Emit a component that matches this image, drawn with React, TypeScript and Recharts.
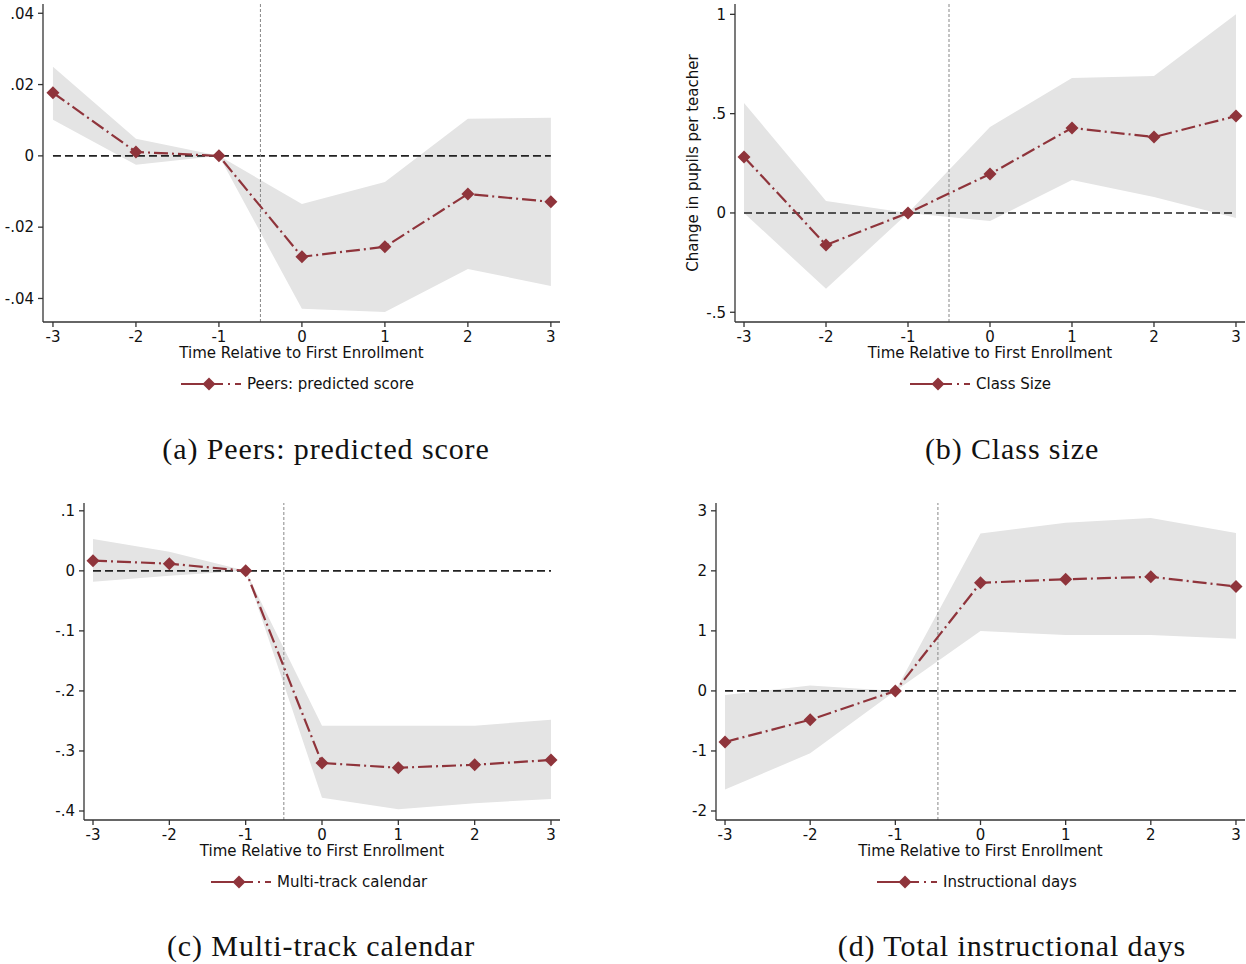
import React from "react";
import { Area, ComposedChart, Line, ReferenceLine, XAxis, YAxis } from "recharts";

const periods = [-3, -2, -1, 0, 1, 2, 3];

const peersCoef = [0.0177, 0.0011, 0, -0.0283, -0.0255, -0.0107, -0.0129];
const peersLo = [0.0101, -0.0025, 0, -0.0429, -0.0438, -0.0317, -0.0365];
const peersHi = [0.025, 0.0048, 0, -0.0135, -0.0073, 0.0104, 0.0107];
const peersTicks = [-0.04, -0.02, 0, 0.02, 0.04];

const classCoef = [0.282, -0.161, 0, 0.196, 0.428, 0.382, 0.488];
const classLo = [0.0, -0.382, 0, -0.04, 0.166, 0.08, -0.025];
const classHi = [0.554, 0.06, 0, 0.433, 0.679, 0.689, 1.0];
const classTicks = [-0.5, 0, 0.5, 1];

const trackCoef = [0.017, 0.012, 0, -0.32, -0.328, -0.323, -0.315];
const trackLo = [-0.018, -0.008, 0, -0.378, -0.397, -0.387, -0.38];
const trackHi = [0.053, 0.032, 0, -0.258, -0.258, -0.258, -0.248];
const trackTicks = [-0.4, -0.3, -0.2, -0.1, 0, 0.1];

const daysCoef = [-0.85, -0.48, 0, 1.8, 1.86, 1.9, 1.74];
const daysLo = [-1.64, -1.04, 0, 1.0, 0.93, 0.93, 0.87];
const daysHi = [-0.07, 0.09, 0, 2.62, 2.8, 2.88, 2.63];
const daysTicks = [-2, -1, 0, 1, 2, 3];

const MAROON = "#8f343b";
const BAND = "#e4e4e4";
const AXIS = "#333";
const SANS = "'DejaVu Sans', sans-serif";
const DASHDOT = "14 4 2 4";
const FS = 15;

// Stata-style labels: ".02" instead of "0.02"
const fmt = (v: number) => String(v).replace(/^(-?)0\./, "$1.");

const Diamond = (props: any) => {
  const { cx, cy } = props;
  if (cx == null || cy == null) return null;
  const r = 6.5;
  return (
    <polygon
      points={`${cx},${cy - r} ${cx + r},${cy} ${cx},${cy + r} ${cx - r},${cy}`}
      fill={MAROON}
    />
  );
};

type PanelProps = {
  left: number;
  top: number;
  width: number;
  height: number;
  marginTop: number;
  yAxisWidth: number;
  xDomain: [number, number];
  yDomain: [number, number];
  yTicks: number[];
  coef: number[];
  lo: number[];
  hi: number[];
  yLabel?: string;
  name: string;
  legendLeft: number;
  legendTop: number;
  caption: string;
  captionCenter: number;
  captionTop: number;
};

function EventPanel(p: PanelProps) {
  const rows = periods.map((t, i) => ({
    t,
    coef: p.coef[i],
    band: [p.lo[i], p.hi[i]],
  }));

  const tickStyle = { fontSize: FS, fill: "#111", fontFamily: SANS };

  return (
    <>
      <div style={{ position: "absolute", left: p.left, top: p.top }}>
        <ComposedChart
          width={p.width}
          height={p.height}
          data={rows}
          margin={{ top: p.marginTop, right: 1, bottom: 0, left: 0 }}
        >
          <XAxis
            dataKey="t"
            type="number"
            domain={p.xDomain}
            ticks={periods}
            allowDataOverflow
            height={48}
            tickSize={5}
            tickMargin={4}
            stroke={AXIS}
            strokeWidth={1.3}
            tick={tickStyle}
            label={{
              value: "Time Relative to First Enrollment",
              position: "insideBottom",
              offset: 12,
              ...tickStyle,
            }}
          />
          <YAxis
            type="number"
            domain={p.yDomain}
            ticks={p.yTicks}
            allowDataOverflow
            width={p.yAxisWidth}
            tickSize={5}
            tickMargin={4}
            tickFormatter={fmt}
            stroke={AXIS}
            strokeWidth={1.3}
            tick={tickStyle}
            label={
              p.yLabel
                ? { value: p.yLabel, angle: -90, position: "center", ...tickStyle }
                : undefined
            }
          />
          <Area
            dataKey="band"
            type="linear"
            stroke="none"
            fill={BAND}
            fillOpacity={1}
            isAnimationActive={false}
          />
          <ReferenceLine
            segment={[
              { x: -3, y: 0 },
              { x: 3, y: 0 },
            ]}
            stroke="#222"
            strokeWidth={1.6}
            strokeDasharray="8 4"
          />
          <ReferenceLine x={-0.5} stroke="#888" strokeWidth={1} strokeDasharray="3 2" />
          <Line
            dataKey="coef"
            type="linear"
            stroke={MAROON}
            strokeWidth={2.2}
            strokeDasharray={DASHDOT}
            dot={<Diamond />}
            activeDot={false}
            isAnimationActive={false}
          />
        </ComposedChart>
      </div>

      <div
        style={{
          position: "absolute",
          left: p.legendLeft,
          top: p.legendTop,
          display: "flex",
          alignItems: "center",
          height: 20,
          fontFamily: SANS,
          fontSize: FS,
          color: "#111",
          whiteSpace: "nowrap",
        }}
      >
        <svg width={60} height={20} style={{ marginRight: 6 }}>
          <line
            x1={0}
            y1={10}
            x2={60}
            y2={10}
            stroke={MAROON}
            strokeWidth={2.2}
            strokeDasharray="42 5 2 5 6"
          />
          <Diamond cx={28} cy={10} />
        </svg>
        <span>{p.name}</span>
      </div>

      <div
        style={{
          position: "absolute",
          left: p.captionCenter - 300,
          top: p.captionTop,
          width: 600,
          textAlign: "center",
          fontFamily: "'Liberation Serif', serif",
          fontSize: 30,
          lineHeight: "34px",
          letterSpacing: 0.9,
          color: "#111",
        }}
      >
        {p.caption}
      </div>
    </>
  );
}

export default function App() {
  return (
    <div style={{ position: "absolute", left: 0, top: 0, width: 1246, height: 964, background: "#fff" }}>
      <EventPanel
        left={0}
        top={0}
        width={561}
        height={370}
        marginTop={4}
        yAxisWidth={43}
        xDomain={[-3.12, 3.11]}
        yDomain={[-0.0466, 0.0426]}
        yTicks={peersTicks}
        coef={peersCoef}
        lo={peersLo}
        hi={peersHi}
        name="Peers: predicted score"
        legendLeft={181}
        legendTop={374}
        caption="(a) Peers: predicted score"
        captionCenter={326}
        captionTop={432}
      />
      <EventPanel
        left={651}
        top={0}
        width={595}
        height={370}
        marginTop={4}
        yAxisWidth={84}
        xDomain={[-3.11, 3.11]}
        yDomain={[-0.549, 1.052]}
        yTicks={classTicks}
        coef={classCoef}
        lo={classLo}
        hi={classHi}
        yLabel="Change in pupils per teacher"
        name="Class Size"
        legendLeft={910}
        legendTop={374}
        caption="(b) Class size"
        captionCenter={1012}
        captionTop={432}
      />
      <EventPanel
        left={0}
        top={497}
        width={561}
        height={371}
        marginTop={6}
        yAxisWidth={84}
        xDomain={[-3.118, 3.118]}
        yDomain={[-0.415, 0.113]}
        yTicks={trackTicks}
        coef={trackCoef}
        lo={trackLo}
        hi={trackHi}
        name="Multi-track calendar"
        legendLeft={211}
        legendTop={872}
        caption="(c) Multi-track calendar"
        captionCenter={321}
        captionTop={929}
      />
      <EventPanel
        left={640}
        top={497}
        width={606}
        height={371}
        marginTop={6}
        yAxisWidth={76}
        xDomain={[-3.106, 3.106]}
        yDomain={[-2.15, 3.13]}
        yTicks={daysTicks}
        coef={daysCoef}
        lo={daysLo}
        hi={daysHi}
        name="Instructional days"
        legendLeft={877}
        legendTop={872}
        caption="(d) Total instructional days"
        captionCenter={1012}
        captionTop={929}
      />
    </div>
  );
}
